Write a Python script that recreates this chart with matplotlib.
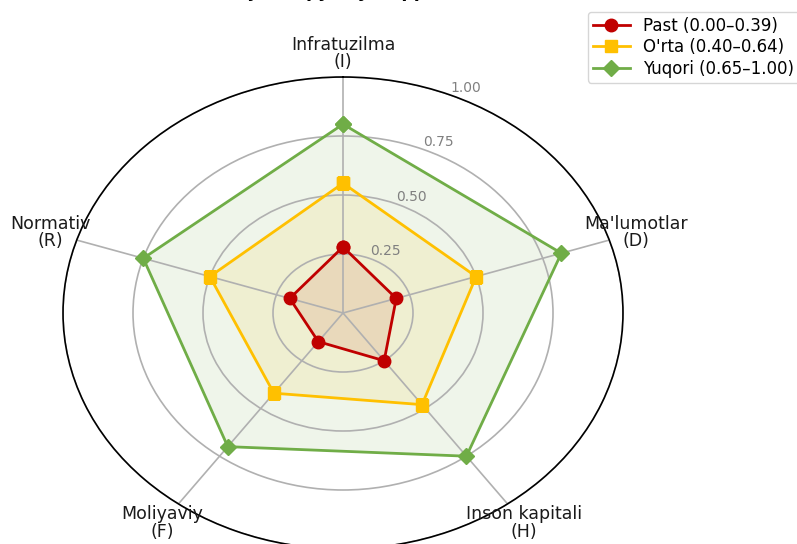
import numpy as np
import matplotlib
matplotlib.use('Agg')
import matplotlib.pyplot as plt

# ma'lumotlar
categories = ["Infratuzilma\n(I)", "Ma'lumotlar\n(D)", "Inson kapitali\n(H)",
              "Moliyaviy\n(F)", "Normativ\n(R)"]
past = [0.28, 0.20, 0.25, 0.15, 0.20]
orta = [0.55, 0.50, 0.48, 0.42, 0.50]
yuqori = [0.80, 0.82, 0.75, 0.70, 0.75]
r_ticks = [0.25, 0.50, 0.75, 1.00]

series = [
    ("Past (0.00–0.39)", past, '#C00000', 'o', 9),
    ("O'rta (0.40–0.64)", orta, '#FFC000', 's', 8),
    ("Yuqori (0.65–1.00)", yuqori, '#70AD47', 'D', 8),
]

angles = np.linspace(0, 2 * np.pi, len(categories), endpoint=False)
angles_c = np.concatenate([angles, angles[:1]])

fig = plt.figure(figsize=(7.97, 5.44), dpi=100)
ax = fig.add_axes([63 / 797, -5 / 544, 560 / 797, 472 / 544], polar=True)
ax.set_aspect('auto')
ax.set_theta_offset(np.pi / 2)
ax.set_theta_direction(-1)

for i, (name, vals, col, mk, ms) in enumerate(series):
    v = np.concatenate([vals, vals[:1]])
    ax.fill(angles_c, v, color=col, alpha=0.11, zorder=1)
    ax.plot(angles_c, v, color=col, linewidth=2, marker=mk, markersize=ms,
            label=name, zorder=5 - i)

ax.set_ylim(0, 1)
ax.set_yticks(r_ticks)
ax.set_yticklabels(['%.2f' % t for t in r_ticks], color='grey', fontsize=10)
ax.set_xticks(angles)
ax.set_xticklabels([])
ax.grid(color='#b0b0b0', linewidth=1.2)
ax.spines['polar'].set_color('black')
ax.spines['polar'].set_linewidth(1.2)

for a, lab in zip(angles, categories):
    ax.text(a, 1.10, lab, ha='center', va='center', fontsize=12.5,
            color='#1a1a1a', linespacing=0.95)

# sarlavha: yuqori qismi rasmdan tashqarida qoladi
fig.text(343 / 797, 1 + 3 / 544, "Darajalar qiyosiy taqqoslash",
         ha='center', va='baseline', fontsize=12.5, fontweight='bold')

ax.legend(loc='upper left', bbox_to_anchor=(588 / 797, 1 - 12 / 544),
          bbox_transform=fig.transFigure, fontsize=12, frameon=True,
          borderaxespad=0, labelspacing=0.2, handlelength=2.2,
          borderpad=0.3)

fig.savefig('out.png', dpi=100)
